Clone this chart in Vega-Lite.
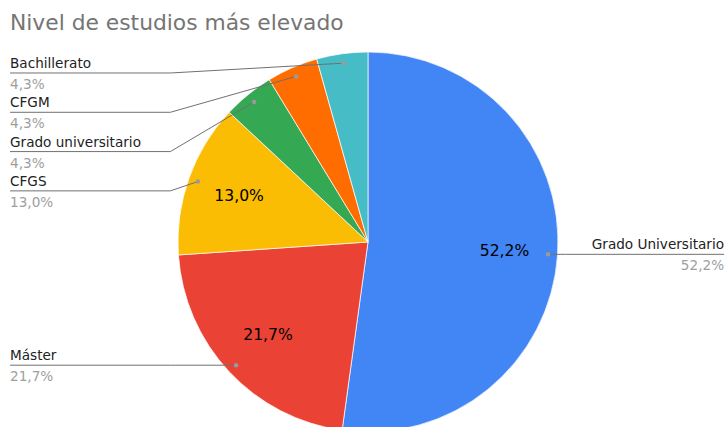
{
  "$schema": "https://vega.github.io/schema/vega-lite/v6.json",
  "width": 727,
  "height": 385,
  "autosize": {"type": "none"},
  "padding": {"left": 0, "top": 42, "right": 0, "bottom": 0},
  "background": "white",
  "title": {
    "text": "Nivel de estudios más elevado",
    "anchor": "start",
    "frame": "group",
    "dx": 10,
    "offset": -10,
    "baseline": "alphabetic",
    "font": "DejaVu Sans",
    "fontSize": 21.8,
    "fontWeight": "normal",
    "color": "#757575"
  },
  "config": {
    "view": {"stroke": null},
    "locale": {"number": {"decimal": ",", "thousands": ".", "grouping": [3], "currency": ["", " €"]}}
  },
  "data": {
    "values": [
      {"nivel": "Grado Universitario", "n": 12, "orden": 1},
      {"nivel": "Máster", "n": 5, "orden": 2},
      {"nivel": "CFGS", "n": 3, "orden": 3},
      {"nivel": "Grado universitario", "n": 1, "orden": 4},
      {"nivel": "CFGM", "n": 1, "orden": 5},
      {"nivel": "Bachillerato", "n": 1, "orden": 6}
    ]
  },
  "transform": [
    {"joinaggregate": [{"op": "sum", "field": "n", "as": "total"}]},
    {"window": [{"op": "sum", "field": "n", "as": "cum"}], "sort": [{"field": "orden"}], "frame": [null, 0]},
    {"calculate": "datum.n / datum.total", "as": "pct"},
    {"calculate": "2 * PI * (datum.cum - datum.n / 2) / datum.total", "as": "mid"},
    {"calculate": "sin(datum.mid) >= 0 ? 'R' : 'L'", "as": "side"},
    {"calculate": "0.95 * sin(datum.mid)", "as": "px"},
    {"calculate": "0.95 * cos(datum.mid)", "as": "py"},
    {"calculate": "0.72 * sin(datum.mid)", "as": "ix"},
    {"calculate": "0.72 * cos(datum.mid)", "as": "iy"},
    {"calculate": "datum.side == 'L' ? -datum.mid : datum.mid", "as": "sk"},
    {"window": [{"op": "row_number", "as": "k"}], "groupby": ["side"], "sort": [{"field": "sk"}]},
    {"calculate": "min(datum.py, 0.8895 - (datum.k - 1) * 0.2068)", "as": "ly"},
    {"calculate": "datum.side == 'L' ? -1.04 : 1.04", "as": "bx"},
    {"calculate": "datum.side == 'L' ? -1.884 : 1.874", "as": "ex"}
  ],
  "layer": [
    {
      "mark": {"type": "arc", "outerRadius": 190, "stroke": "white", "strokeWidth": 0.7},
      "encoding": {
        "x": {"datum": 0, "type": "quantitative", "scale": {"domain": [-1.9368, 1.8895], "nice": false, "zero": false}, "axis": null},
        "y": {"datum": 0, "type": "quantitative", "scale": {"domain": [-0.97368, 1.05263], "nice": false, "zero": false}, "axis": null},
        "theta": {"field": "n", "type": "quantitative", "stack": true},
        "order": {"field": "orden", "type": "quantitative"},
        "color": {
          "field": "nivel",
          "type": "nominal",
          "scale": {
            "domain": ["Grado Universitario", "Máster", "CFGS", "Grado universitario", "CFGM", "Bachillerato"],
            "range": ["#4285F4", "#EA4335", "#FBBC04", "#34A853", "#FF6D01", "#46BDC6"]
          },
          "legend": null
        }
      }
    },
    {
      "transform": [{"filter": "datum.pct >= 0.1"}],
      "mark": {"type": "text", "font": "DejaVu Sans", "fontSize": 15.6, "color": "#000000", "baseline": "middle", "align": "center"},
      "encoding": {
        "x": {"field": "ix", "type": "quantitative", "scale": {"domain": [-1.9368, 1.8895], "nice": false, "zero": false}, "axis": null},
        "y": {"field": "iy", "type": "quantitative", "scale": {"domain": [-0.97368, 1.05263], "nice": false, "zero": false}, "axis": null},
        "text": {"field": "pct", "type": "quantitative", "format": ".1%"}
      }
    },
    {
      "mark": {"type": "rule", "color": "#707070", "strokeWidth": 1},
      "encoding": {
        "x": {"field": "px", "type": "quantitative", "scale": {"domain": [-1.9368, 1.8895], "nice": false, "zero": false}, "axis": null},
        "y": {"field": "py", "type": "quantitative", "scale": {"domain": [-0.97368, 1.05263], "nice": false, "zero": false}, "axis": null},
        "x2": {"field": "bx"},
        "y2": {"field": "ly"}
      }
    },
    {
      "mark": {"type": "rule", "color": "#707070", "strokeWidth": 1},
      "encoding": {
        "x": {"field": "bx", "type": "quantitative", "scale": {"domain": [-1.9368, 1.8895], "nice": false, "zero": false}, "axis": null},
        "y": {"field": "ly", "type": "quantitative", "scale": {"domain": [-0.97368, 1.05263], "nice": false, "zero": false}, "axis": null},
        "x2": {"field": "ex"},
        "y2": {"field": "ly"}
      }
    },
    {
      "mark": {"type": "point", "filled": true, "size": 20, "color": "#9a9a9a", "opacity": 1},
      "encoding": {
        "x": {"field": "px", "type": "quantitative", "scale": {"domain": [-1.9368, 1.8895], "nice": false, "zero": false}, "axis": null},
        "y": {"field": "py", "type": "quantitative", "scale": {"domain": [-0.97368, 1.05263], "nice": false, "zero": false}, "axis": null}
      }
    },
    {
      "transform": [{"filter": "datum.side == 'L'"}],
      "mark": {"type": "text", "font": "DejaVu Sans", "fontSize": 13.6, "color": "#222222", "align": "left", "baseline": "alphabetic", "dy": -5},
      "encoding": {
        "x": {"field": "ex", "type": "quantitative", "scale": {"domain": [-1.9368, 1.8895], "nice": false, "zero": false}, "axis": null},
        "y": {"field": "ly", "type": "quantitative", "scale": {"domain": [-0.97368, 1.05263], "nice": false, "zero": false}, "axis": null},
        "text": {"field": "nivel", "type": "nominal"}
      }
    },
    {
      "transform": [{"filter": "datum.side == 'L'"}],
      "mark": {"type": "text", "font": "DejaVu Sans", "fontSize": 13.6, "color": "#9e9e9e", "align": "left", "baseline": "alphabetic", "dy": 16},
      "encoding": {
        "x": {"field": "ex", "type": "quantitative", "scale": {"domain": [-1.9368, 1.8895], "nice": false, "zero": false}, "axis": null},
        "y": {"field": "ly", "type": "quantitative", "scale": {"domain": [-0.97368, 1.05263], "nice": false, "zero": false}, "axis": null},
        "text": {"field": "pct", "type": "quantitative", "format": ".1%"}
      }
    },
    {
      "transform": [{"filter": "datum.side == 'R'"}],
      "mark": {"type": "text", "font": "DejaVu Sans", "fontSize": 13.6, "color": "#222222", "align": "right", "baseline": "alphabetic", "dy": -5},
      "encoding": {
        "x": {"field": "ex", "type": "quantitative", "scale": {"domain": [-1.9368, 1.8895], "nice": false, "zero": false}, "axis": null},
        "y": {"field": "ly", "type": "quantitative", "scale": {"domain": [-0.97368, 1.05263], "nice": false, "zero": false}, "axis": null},
        "text": {"field": "nivel", "type": "nominal"}
      }
    },
    {
      "transform": [{"filter": "datum.side == 'R'"}],
      "mark": {"type": "text", "font": "DejaVu Sans", "fontSize": 13.6, "color": "#9e9e9e", "align": "right", "baseline": "alphabetic", "dy": 16},
      "encoding": {
        "x": {"field": "ex", "type": "quantitative", "scale": {"domain": [-1.9368, 1.8895], "nice": false, "zero": false}, "axis": null},
        "y": {"field": "ly", "type": "quantitative", "scale": {"domain": [-0.97368, 1.05263], "nice": false, "zero": false}, "axis": null},
        "text": {"field": "pct", "type": "quantitative", "format": ".1%"}
      }
    }
  ]
}
